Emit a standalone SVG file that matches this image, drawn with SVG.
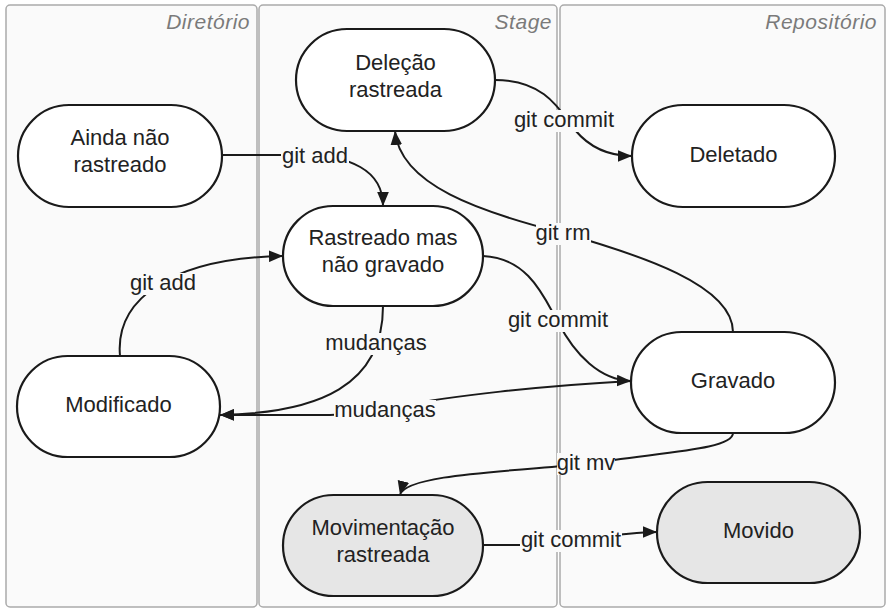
<svg xmlns="http://www.w3.org/2000/svg" width="889" height="615" viewBox="0 0 889 615">
<style>
.lane{fill:#fafafa;stroke:#ababab;stroke-width:1.5}
.lt{font-family:"Liberation Sans",Arial,sans-serif;font-size:21px;font-style:italic;fill:#7a7a7a;text-anchor:end;letter-spacing:0.5px}
.node{fill:#ffffff;stroke:#1a1a1a;stroke-width:2.2}
.gray{fill:#e6e6e6}
.nt{font-family:"Liberation Sans",Arial,sans-serif;font-size:22px;fill:#222;text-anchor:middle}
.edge{fill:none;stroke:#1a1a1a;stroke-width:2;marker-end:url(#arr)}
.bg{fill:#fafafa}
.el{font-family:"Liberation Sans",Arial,sans-serif;font-size:22px;fill:#222;text-anchor:middle}
</style>
<defs>
<marker id="arr" viewBox="0 0 12 10" refX="12" refY="5" markerWidth="14" markerHeight="12" markerUnits="userSpaceOnUse" orient="auto">
<path d="M0,0 L12,5 L0,10 Z" fill="#1a1a1a"/>
</marker>
</defs>
<rect width="889" height="615" fill="#ffffff"/>
<g id="lanes">
<rect class="lane" x="6" y="5" width="251" height="602" rx="4"/>
<rect class="lane" x="259" y="5" width="298" height="602" rx="4"/>
<rect class="lane" x="560" y="5" width="325" height="602" rx="4"/>
<text class="lt" x="250" y="29">Diretório</text>
<text class="lt" x="552" y="29">Stage</text>
<text class="lt" x="877" y="29">Repositório</text>
</g>
<g id="connectors">
<path class="edge" d="M222,155 L300,155 C350,155 383,170 383,206"/>
<path class="edge" d="M495,80 C545,80 560,110 575,130 C590,148 610,156 632,156"/>
<path class="edge" d="M733,332 C733,285 640,255 563,233 C480,212 400,185 395,131"/>
<path class="edge" d="M483,256 C530,258 545,300 558,322 C575,355 600,380 631,381"/>
<path class="edge" d="M383,306 C383,385 320,413 220,415"/>
<path class="edge" d="M631,381 C540,386 450,396 400,406 C380,410 360,414 330,415 L220,415"/>
<path class="edge" d="M120,356 C115,300 170,258 283,256"/>
<path class="edge" d="M733,433 C733,450 660,452 586,464 C500,472 405,475 400,495"/>
<path class="edge" d="M483,545 L530,545 C575,545 610,532 657,532"/>
<g id="edge-labels">
<rect class="bg" x="281" y="146" width="68" height="22"/><text class="el" x="315" y="163">git add</text>
<rect class="bg" x="513" y="110" width="102" height="22"/><text class="el" x="564" y="127">git commit</text>
<rect class="bg" x="536" y="223" width="55" height="22"/><text class="el" x="563" y="240">git rm</text>
<rect class="bg" x="507" y="310" width="102" height="22"/><text class="el" x="558" y="327">git commit</text>
<rect class="bg" x="129" y="273" width="68" height="22"/><text class="el" x="163" y="290">git add</text>
<rect class="bg" x="325" y="333" width="102" height="22"/><text class="el" x="376" y="350">mudanças</text>
<rect class="bg" x="334" y="400" width="102" height="22"/><text class="el" x="385" y="417">mudanças</text>
<rect class="bg" x="557" y="453" width="58" height="22"/><text class="el" x="586" y="470">git mv</text>
<rect class="bg" x="520" y="530" width="102" height="22"/><text class="el" x="571" y="547">git commit</text>
</g>
</g>
<g id="ainda">
<rect class="node" x="18" y="105" width="204" height="102" rx="51"/>
<text class="nt" x="120" y="145">Ainda não</text>
<text class="nt" x="120" y="172">rastreado</text>
</g>
<g id="delecao">
<rect class="node" x="296" y="29" width="199" height="102" rx="51"/>
<text class="nt" x="395.5" y="70">Deleção</text>
<text class="nt" x="395.5" y="97">rastreada</text>
</g>
<g id="deletado">
<rect class="node" x="632" y="105" width="203" height="102" rx="51"/>
<text class="nt" x="733.5" y="162">Deletado</text>
</g>
<g id="rastreado">
<rect class="node" x="283" y="206" width="200" height="100" rx="50"/>
<text class="nt" x="383" y="245">Rastreado mas</text>
<text class="nt" x="383" y="272">não gravado</text>
</g>
<g id="modificado">
<rect class="node" x="17" y="356" width="203" height="101" rx="50.5"/>
<text class="nt" x="118.5" y="412">Modificado</text>
</g>
<g id="gravado">
<rect class="node" x="631" y="332" width="204" height="101" rx="50.5"/>
<text class="nt" x="733" y="388">Gravado</text>
</g>
<g id="movimentacao">
<rect class="node gray" x="283" y="495" width="200" height="101" rx="50.5"/>
<text class="nt" x="383" y="535">Movimentação</text>
<text class="nt" x="383" y="562">rastreada</text>
</g>
<g id="movido">
<rect class="node gray" x="657" y="482" width="203" height="101" rx="50.5"/>
<text class="nt" x="758.5" y="538">Movido</text>
</g>
</svg>
